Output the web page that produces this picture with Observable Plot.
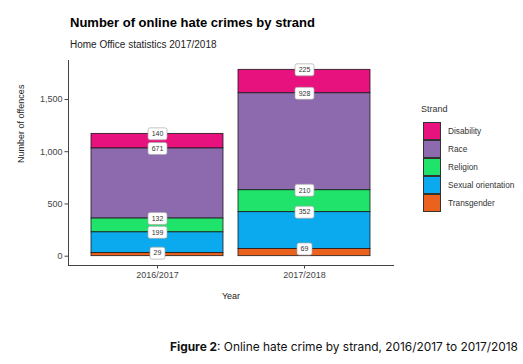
<!DOCTYPE html>
<html><head><meta charset="utf-8">
<script src="https://cdn.jsdelivr.net/npm/d3@7"></script>
<script src="https://cdn.jsdelivr.net/npm/@observablehq/plot@0.6"></script>
<style>
body{margin:0;background:#fff;width:523px;height:364px;overflow:hidden;position:relative;font-family:"Liberation Sans",Arial,sans-serif;}
.abs{position:absolute;white-space:nowrap;line-height:1}
#title{left:70px;top:16px;font-weight:bold;font-size:13px;color:#000}
#subtitle{left:70px;top:40px;font-size:10px;color:#222}
#chart{position:absolute;left:0;top:55px}
#legend{left:421px;top:105px;font-size:8.3px;color:#333}
#legend .lt{font-size:9px;color:#333;margin-bottom:8px}
#legend .row{display:flex;align-items:center;height:18px}
#legend .sw{width:18px;height:18px;box-sizing:border-box;border:1px solid #333;margin-left:2px;margin-right:7px}
#caption{left:170px;top:341px;font-family:Inter,sans-serif;font-size:11.9px;color:#111}
</style></head><body>
<div id="title" class="abs">Number of online hate crimes by strand</div>
<div id="subtitle" class="abs">Home Office statistics 2017/2018</div>
<div id="chart"></div>
<div id="legend" class="abs"></div>
<div id="caption" class="abs"><b>Figure 2</b>: Online hate crime by strand, 2016/2017 to 2017/2018</div>
<script>
const years = ["2016/2017", "2017/2018"];
const strands = ["Disability", "Race", "Religion", "Sexual orientation", "Transgender"];
const strandColors = ["#E8127F", "#8C6AAD", "#1FE36B", "#0BAAEE", "#EA621D"];
const disability = [140, 225];
const race = [671, 928];
const religion = [132, 210];
const sexualOrientation = [199, 352];
const transgender = [29, 69];
const yTicks = [0, 500, 1000, 1500];

const seriesByStrand = [disability, race, religion, sexualOrientation, transgender];
const rows = [];
years.forEach((yr, i) => strands.forEach((s, j) => rows.push({year: yr, strand: s, value: seriesByStrand[j][i]})));
const stackOrder = strands.slice().reverse();
const total = d3.max(years.map((y, i) => d3.sum(seriesByStrand, s => s[i])));
const pad = total * 0.05;

const labelBox = {
  draw(ctx, size) {
    const r = Math.sqrt(size / Math.PI);
    const w = r * 4 + 7, h = 12, c = 2;
    const x0 = -w / 2, x1 = w / 2, y0 = -h / 2, y1 = h / 2;
    ctx.moveTo(x0 + c, y0);
    ctx.lineTo(x1 - c, y0); ctx.arcTo(x1, y0, x1, y0 + c, c);
    ctx.lineTo(x1, y1 - c); ctx.arcTo(x1, y1, x1 - c, y1, c);
    ctx.lineTo(x0 + c, y1); ctx.arcTo(x0, y1, x0, y1 - c, c);
    ctx.lineTo(x0, y0 + c); ctx.arcTo(x0, y0, x0 + c, y0, c);
    ctx.closePath();
  }
};

const chart = Plot.plot({
  width: 400, height: 255,
  marginLeft: 68, marginRight: 7, marginTop: 5, marginBottom: 45,
  style: {fontFamily: "Liberation Sans, Arial, sans-serif", fontSize: "9px", color: "#444", background: "white"},
  x: {domain: years, paddingInner: 0.1, paddingOuter: 0.15, label: null, line: true, tickSize: 3.5, tickPadding: 2.5},
  y: {domain: [-pad, total + pad], ticks: yTicks, tickFormat: d3.format(","), label: null, line: true, tickSize: 3.5, tickPadding: 2.5},
  color: {domain: strands, range: strandColors},
  r: {type: "identity"},
  marks: [
    Plot.barY(rows, {x: "year", y: "value", fill: "strand", order: stackOrder, stroke: "#1a1a1a", strokeWidth: 0.8}),
    Plot.dot(rows, Plot.stackY2({x: "year", y: "value", z: "strand", order: stackOrder,
      r: d => String(d.value).length, symbol: labelBox, fill: "white", stroke: "#aaa", strokeWidth: 0.7})),
    Plot.text(rows, Plot.stackY2({x: "year", y: "value", z: "strand", order: stackOrder,
      text: d => String(d.value), fontSize: 7, fill: "#333"})),
    Plot.text(["Number of offences"], {frameAnchor: "left", rotate: -90, dx: -47, fontSize: 9, fill: "#222"}),
    Plot.text(["Year"], {frameAnchor: "bottom", dy: 33, fontSize: 9, fill: "#222"})
  ]
});
document.getElementById("chart").appendChild(chart);

const legend = document.getElementById("legend");
const lt = document.createElement("div"); lt.className = "lt"; lt.textContent = "Strand"; legend.appendChild(lt);
strands.forEach((s, i) => {
  const row = document.createElement("div"); row.className = "row";
  const sw = document.createElement("div"); sw.className = "sw"; sw.style.background = strandColors[i];
  const lb = document.createElement("span"); lb.textContent = s;
  row.appendChild(sw); row.appendChild(lb); legend.appendChild(row);
});
</script>
</body></html>
